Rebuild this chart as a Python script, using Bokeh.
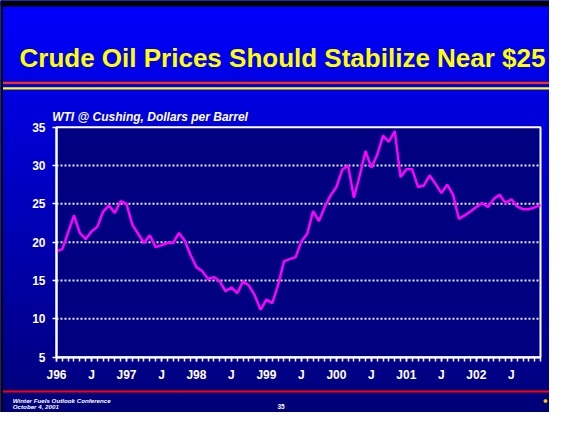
import numpy as np
from bokeh.plotting import figure
from bokeh.models import Range1d, LinearAxis, FixedTicker
from bokeh.core.properties import value
from bokeh.embed import file_html
from bokeh.resources import INLINE

# ---------------- data ----------------
months = list(range(84))  # Jan 1996 .. Dec 2002
wti = [
    18.8, 19.1, 21.3, 23.5, 21.2, 20.4, 21.4, 22.0, 24.0, 24.8, 23.8, 25.35,   # 1996
    25.0, 22.3, 21.1, 19.9, 20.9, 19.35, 19.6, 19.9, 19.9, 21.2, 20.2, 18.3,   # 1997
    16.75, 16.2, 15.2, 15.45, 14.9, 13.6, 14.1, 13.35, 14.9, 14.35, 13.05, 11.2,  # 1998
    12.5, 12.05, 14.4, 17.5, 17.8, 18.05, 20.1, 21.1, 24.05, 22.75, 24.6, 26.1,  # 1999
    27.2, 29.45, 30.0, 25.8, 28.7, 31.9, 29.7, 31.4, 33.9, 33.1, 34.5, 28.5,   # 2000
    29.5, 29.5, 27.2, 27.4, 28.7, 27.6, 26.4, 27.5, 26.2, 23.05, 23.5, 24.0,   # 2001
    24.6, 25.1, 24.6, 25.65, 26.2, 25.1, 25.6, 24.65, 24.3, 24.3, 24.55, 24.85,  # 2002
]
x_tick_pos = [0, 6, 12, 18, 24, 30, 36, 42, 48, 54, 60, 66, 72, 78]
x_tick_labels = ["J96", "J", "J97", "J", "J98", "J", "J99", "J", "J00", "J", "J01", "J", "J02", "J"]
y_ticks = [5, 10, 15, 20, 25, 30, 35]
grid_levels = [10, 15, 20, 25, 30]
title_text = "Crude Oil Prices Should Stabilize Near $25"
subtitle_text = "WTI @ Cushing, Dollars per Barrel"
footer_lines = ["Winter Fuels Outlook Conference", "October 4, 2001"]
page_number = "35"

# ---------------- layout (pixels in the figure, origin top-left) ----------------
W, H = 549, 412
PL, PR, PT, PB = 56.0, 540.0, 126.7, 356.7
xmin, xmax = months[0], months[-1]
ymin, ymax = y_ticks[0], y_ticks[-1]
sx = (PR - PL) / (xmax - xmin)
sy = (PB - PT) / (ymax - ymin)

p = figure(width=W, height=H,
           x_range=Range1d(xmin - PL / sx, xmax + (W - PR) / sx),
           y_range=Range1d(ymin - (H - PB) / sy, ymax + PT / sy),
           output_backend="svg", toolbar_location=None,
           x_axis_type=None, y_axis_type=None, min_border=0)
p.min_border_left = p.min_border_right = p.min_border_top = p.min_border_bottom = 0
p.outline_line_color = None
p.background_fill_color = "#0000ff"
p.border_fill_color = "#0000ff"
p.extra_x_ranges = {"px": Range1d(0, W)}
p.extra_y_ranges = {"px": Range1d(H, 0)}
PX = dict(x_range_name="px", y_range_name="px")

# background gradient
n = 103
edges = np.linspace(0, H, n + 1)
mid = (edges[:-1] + edges[1:]) / 2
blue = 255 - (255 - 120) * np.clip(mid / H, 0, 1)
cols = ["#0000%02x" % int(round(b)) for b in blue]
p.quad(left=0, right=W, top=edges[:-1], bottom=edges[1:], fill_color=cols, line_color=cols, line_width=1, **PX)

# slide frame edges (black)
p.quad(left=0, right=W, top=0, bottom=6, fill_color="black", line_color=None, **PX)
p.quad(left=0, right=2.5, top=0, bottom=H, fill_color="black", line_color=None, **PX)

# decorative rules
p.quad(left=2.5, right=W, top=81.3, bottom=83.5, fill_color="#ff3300", line_color=None, **PX)
p.quad(left=2.5, right=W, top=86.7, bottom=89.0, fill_color="#ffff00", line_color=None, **PX)
p.quad(left=2.5, right=W, top=390.0, bottom=392.0, fill_color="#ff0000", line_color=None, **PX)

# texts
p.text(x=[282], y=[57.3], text=[title_text], text_font=value("Liberation Sans"), text_font_style="bold",
       text_font_size="26px", text_color="#ffff00", text_align="center", text_baseline="alphabetic", **PX)
p.text(x=[51.7], y=[116.7], text=[subtitle_text], text_font=value("Liberation Sans"), text_font_style="bold italic",
       text_font_size="12px", text_color="white", text_align="left", text_baseline="alphabetic", **PX)
p.text(x=[12.3, 12.3], y=[399.5, 405.8], text=footer_lines, text_font=value("Liberation Sans"),
       text_font_style="bold italic", text_font_size="6.2px", text_color="white", text_align="left",
       text_baseline="alphabetic", **PX)
p.text(x=[280.5], y=[405.8], text=[page_number], text_font=value("Liberation Sans"), text_font_style="bold",
       text_font_size="6.5px", text_color="white", text_align="center", text_baseline="alphabetic", **PX)
p.scatter(x=[545.0], y=[400.5], size=3, color="#ffcc00", **PX)

# plot area
p.quad(left=xmin, right=xmax, bottom=ymin, top=ymax, fill_color="#000080", line_color="white", line_width=2)
p.segment(x0=xmin, x1=xmax, y0=grid_levels, y1=grid_levels, line_color="#e8e8f0", line_width=2, line_dash="2 2")
p.line(months, wti, line_color="#ff00ff", line_width=2.5)

# axes
def style(ax):
    ax.axis_line_color = "white"
    ax.axis_line_width = 2
    ax.major_tick_line_color = "white"
    ax.major_tick_line_width = 1.5
    ax.minor_tick_line_color = "white"
    ax.minor_tick_line_width = 1.5
    ax.major_tick_in = 0
    ax.major_tick_out = 4
    ax.minor_tick_in = 0
    ax.minor_tick_out = 4
    ax.major_label_text_color = "white"
    ax.major_label_text_font = "Liberation Sans"
    ax.major_label_text_font_style = "bold"
    ax.major_label_text_font_size = "12px"
    ax.major_label_standoff = 7

xaxis = LinearAxis(fixed_location=ymin, bounds=(xmin, xmax),
                   ticker=FixedTicker(ticks=x_tick_pos, minor_ticks=months),
                   major_label_overrides={k: v for k, v in zip(x_tick_pos, x_tick_labels)})
style(xaxis)
p.add_layout(xaxis, "below")

yaxis = LinearAxis(fixed_location=xmin, bounds=(ymin, ymax),
                   ticker=FixedTicker(ticks=y_ticks, minor_ticks=[]))
style(yaxis)
yaxis.major_label_orientation = "horizontal"
p.add_layout(yaxis, "left")

open("out.html", "w").write(file_html(p, INLINE))
